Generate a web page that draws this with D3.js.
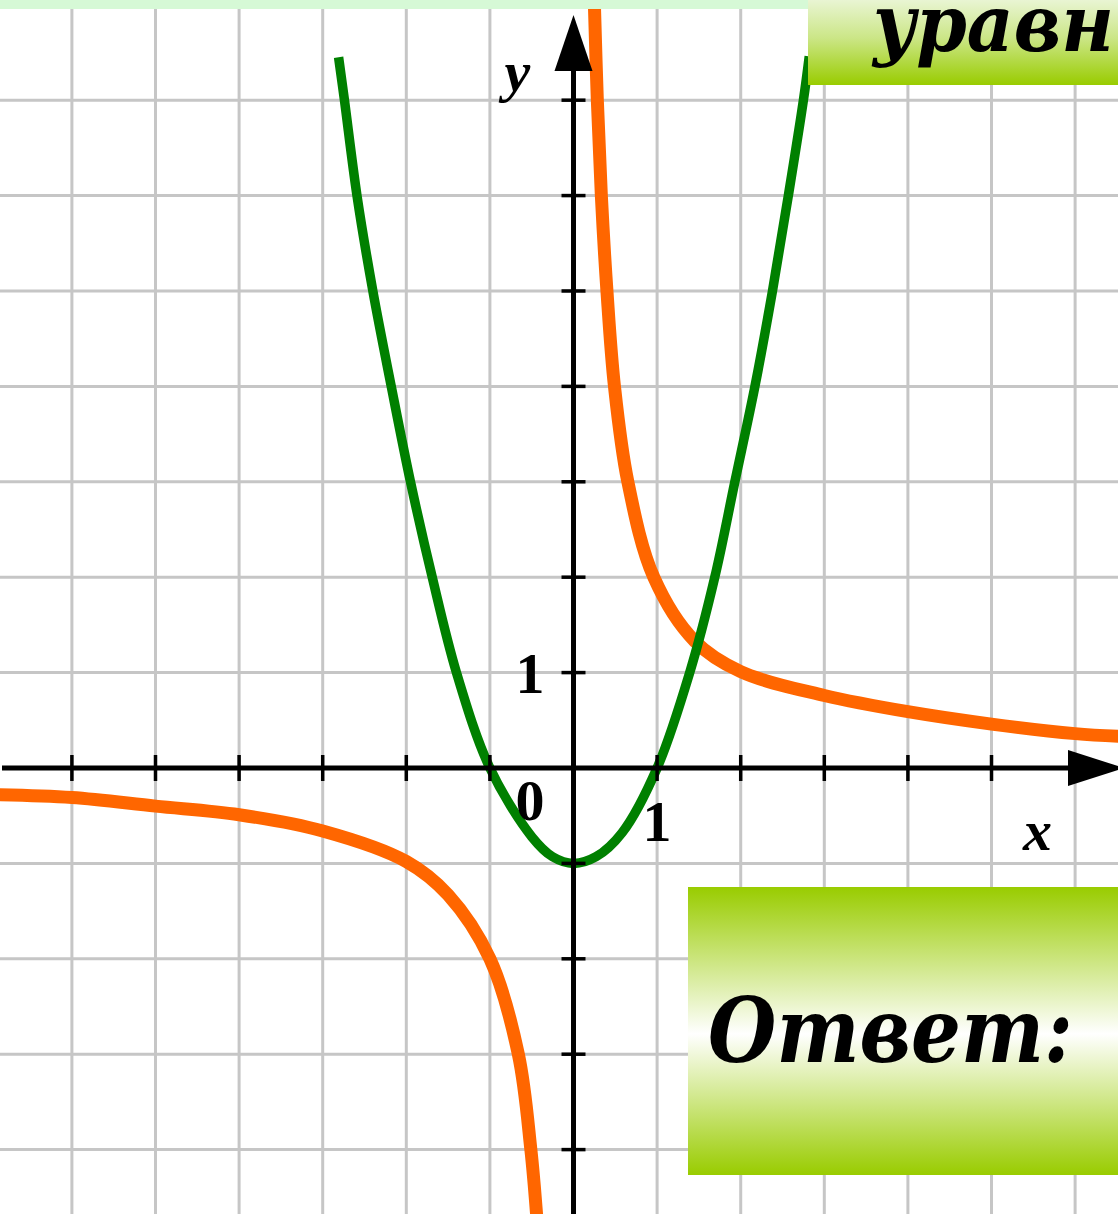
<!DOCTYPE html>
<html>
<head>
<meta charset="utf-8">
<script src="https://cdn.jsdelivr.net/npm/d3@7"></script>
<style>
  html, body { margin: 0; padding: 0; background: #fff; }
  svg { display: block; }
</style>
</head>
<body>
<svg id="my-svg" width="1118" height="1214"></svg>
<script>
// Grid / tick values
var xTicks = [-6, -5, -4, -3, -2, -1, 1, 2, 3, 4, 5, 6];
var yTicks = [-4, -3, -2, -1, 1, 2, 3, 4, 5, 6, 7];

// Orange curve (hyperbola)
var orangeRightX = [0.25, 0.285, 0.333, 0.40, 0.49, 0.65, 0.96, 1.45, 2.0, 3.0, 4.0, 5.0, 6.0, 6.55];
var orangeRightY = [8.0, 7.0, 6.0, 5.0, 4.0, 3.0, 2.0, 1.33, 1.01, 0.76, 0.59, 0.46, 0.36, 0.33];
var orangeLeftX = [-6.9, -6, -5, -4, -3, -2, -1.5, -1, -0.66, -0.51, -0.44];
var orangeLeftY = [-0.28, -0.31, -0.40, -0.49, -0.66, -0.98, -1.33, -2.0, -3.0, -4.0, -4.7];

// Green curve (parabola)
var greenX = [-2.81, -2.74, -2.59, -2.40, -2.18, -1.95, -1.69, -1.40, -1.0, -0.50, -0.25, 0, 0.27, 0.58, 1.0, 1.39, 1.69, 1.93, 2.17, 2.38, 2.57, 2.75, 2.82];
var greenY = [7.45, 7.0, 6.0, 5.0, 4.0, 3.0, 2.0, 1.0, 0, -0.72, -0.93, -1.0, -0.93, -0.68, 0, 1.0, 2.0, 3.0, 4.0, 5.0, 6.0, 7.0, 7.46];

// Axis labels
var tickLabels = [
  {text: '1', x: -0.52, y: 0.79},
  {text: '0', x: -0.52, y: -0.55},
  {text: '1', x: 1.0, y: -0.77}
];
var axisNames = [
  {text: 'y', x: -0.67, y: 7.1},
  {text: 'x', x: 5.55, y: -0.86}
];
var titleText = 'уравн';
var answerText = 'Ответ:';

var W = 1118, H = 1214;
var svg = d3.select('#my-svg');

var x = d3.scaleLinear().domain([-6.86, 6.513]).range([0, W]);
var y = d3.scaleLinear().domain([-4.675, 8.05]).range([H, 0]);

function zip(xs, ys) {
  return xs.map(function(v, i) { return [v, ys[i]]; });
}

// gradients
var defs = svg.append('defs');
var g1 = defs.append('linearGradient').attr('id', 'topBox')
  .attr('x1', 0).attr('y1', 0).attr('x2', 0).attr('y2', 1);
g1.append('stop').attr('offset', '0%').attr('stop-color', '#e9f5d3');
g1.append('stop').attr('offset', '45%').attr('stop-color', '#cbe686');
g1.append('stop').attr('offset', '100%').attr('stop-color', '#99cc00');
var g2 = defs.append('linearGradient').attr('id', 'ansBox')
  .attr('x1', 0).attr('y1', 0).attr('x2', 0).attr('y2', 1);
g2.append('stop').attr('offset', '0%').attr('stop-color', '#99cc00');
g2.append('stop').attr('offset', '51%').attr('stop-color', '#ffffff');
g2.append('stop').attr('offset', '100%').attr('stop-color', '#99cc00');

svg.append('rect').attr('width', W).attr('height', H).attr('fill', '#fff');

// grid
svg.selectAll('line.vgrid')
  .data(xTicks)
  .enter().append('line')
  .attr('class', 'vgrid')
  .attr('x1', function(d) { return x(d); }).attr('x2', function(d) { return x(d); })
  .attr('y1', 0).attr('y2', H)
  .attr('stroke', '#c6c6c6').attr('stroke-width', 3);
svg.selectAll('line.hgrid')
  .data(yTicks)
  .enter().append('line')
  .attr('class', 'hgrid')
  .attr('x1', 0).attr('x2', W)
  .attr('y1', function(d) { return y(d); }).attr('y2', function(d) { return y(d); })
  .attr('stroke', '#c6c6c6').attr('stroke-width', 3);

// curves
var curveLine = d3.line()
  .x(function(d) { return x(d[0]); })
  .y(function(d) { return y(d[1]); })
  .curve(d3.curveCatmullRom.alpha(0.5));

svg.selectAll('path.orange')
  .data([zip(orangeLeftX, orangeLeftY), zip(orangeRightX, orangeRightY)])
  .enter().append('path')
  .attr('class', 'orange')
  .attr('d', curveLine)
  .attr('fill', 'none')
  .attr('stroke', '#ff6600')
  .attr('stroke-width', 13)
  .attr('stroke-linejoin', 'round');

svg.append('path')
  .datum(zip(greenX, greenY))
  .attr('d', curveLine)
  .attr('fill', 'none')
  .attr('stroke', '#008000')
  .attr('stroke-width', 9.5)
  .attr('stroke-linejoin', 'round');

// top light strip
svg.append('rect').attr('x', 0).attr('y', 0).attr('width', 808).attr('height', 9)
  .attr('fill', '#d6f9d6');

// axes
svg.append('line')
  .attr('x1', 2).attr('x2', W - 40)
  .attr('y1', y(0)).attr('y2', y(0))
  .attr('stroke', '#000').attr('stroke-width', 5);
svg.append('line')
  .attr('x1', x(0)).attr('x2', x(0))
  .attr('y1', H).attr('y2', 60)
  .attr('stroke', '#000').attr('stroke-width', 5);

// ticks
svg.selectAll('line.xtick')
  .data(xTicks)
  .enter().append('line')
  .attr('class', 'xtick')
  .attr('x1', function(d) { return x(d); }).attr('x2', function(d) { return x(d); })
  .attr('y1', y(0) - 13).attr('y2', y(0) + 13)
  .attr('stroke', '#000').attr('stroke-width', 3.5);
svg.selectAll('line.ytick')
  .data(yTicks)
  .enter().append('line')
  .attr('class', 'ytick')
  .attr('x1', x(0) - 12).attr('x2', x(0) + 12)
  .attr('y1', function(d) { return y(d); }).attr('y2', function(d) { return y(d); })
  .attr('stroke', '#000').attr('stroke-width', 3.5);

// arrows
var ax = x(0), ay = y(0);
svg.append('path')
  .attr('d', 'M' + ax + ',15 L' + (ax + 19) + ',71 L' + (ax - 19) + ',71 Z')
  .attr('fill', '#000');
svg.append('path')
  .attr('d', 'M' + (W + 6) + ',' + ay + ' L1068,' + (ay - 18) + ' L1068,' + (ay + 18) + ' Z')
  .attr('fill', '#000');

// labels
svg.selectAll('text.tick')
  .data(tickLabels)
  .enter().append('text')
  .attr('class', 'tick')
  .attr('x', function(d) { return x(d.x); })
  .attr('y', function(d) { return y(d.y); })
  .attr('text-anchor', 'middle')
  .attr('font-family', '"Liberation Serif", "DejaVu Serif", serif')
  .attr('font-weight', 'bold')
  .attr('font-size', 58)
  .text(function(d) { return d.text; });
svg.selectAll('text.name')
  .data(axisNames)
  .enter().append('text')
  .attr('class', 'name')
  .attr('x', function(d) { return x(d.x); })
  .attr('y', function(d) { return y(d.y); })
  .attr('text-anchor', 'middle')
  .attr('font-family', '"Liberation Serif", "DejaVu Serif", serif')
  .attr('font-style', 'italic')
  .attr('font-weight', 'bold')
  .attr('font-size', 58)
  .text(function(d) { return d.text; });

// fit a text horizontally into a given width
function fitText(t, left, base, width) {
  var w = t.node().getComputedTextLength();
  var k = Math.min(1, width / w);
  t.attr('transform', 'translate(' + left + ',' + base + ') scale(' + k + ',1)');
}

// top title box
svg.append('rect').attr('x', 808).attr('y', 0).attr('width', W - 808).attr('height', 85)
  .attr('fill', 'url(#topBox)');
var title = svg.append('text')
  .attr('x', 0).attr('y', 0)
  .attr('font-family', '"DejaVu Serif", "Liberation Serif", serif')
  .attr('font-style', 'italic')
  .attr('font-weight', 'bold')
  .attr('font-size', 78)
  .text(titleText);
fitText(title, 873, 51, W - 873 - 4);

// answer box
svg.append('rect').attr('x', 688).attr('y', 887).attr('width', W - 688).attr('height', 288)
  .attr('fill', 'url(#ansBox)');
var answer = svg.append('text')
  .attr('x', 0).attr('y', 0)
  .attr('font-family', '"DejaVu Serif", "Liberation Serif", serif')
  .attr('font-style', 'italic')
  .attr('font-weight', 'bold')
  .attr('font-size', 90)
  .text(answerText);
fitText(answer, 708, 1062, 365);
</script>
</body>
</html>
